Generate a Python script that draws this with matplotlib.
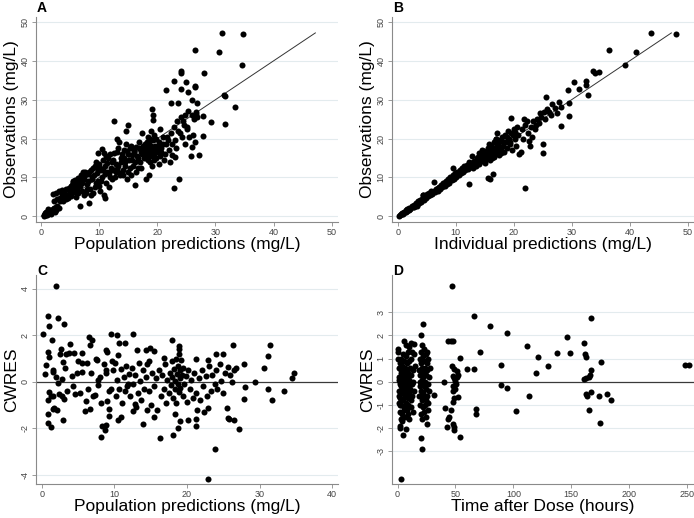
import matplotlib
matplotlib.use("Agg")
import matplotlib.pyplot as plt
import numpy as np

# ---------------- data ----------------
# Panel A: population predictions (x) vs observations (y), mg/L
A_POINTS = [
    (0.5,0.3),(0.6,0.5),(0.7,0.2),(0.8,0.6),(0.9,0.4),(1.0,0.8),(1.1,0.5),(1.2,1.0),(1.3,0.7),(1.4,1.2),
    (1.5,0.9),(1.6,1.4),(1.7,1.1),(1.8,1.6),(1.9,1.3),(2.0,1.8),(2.1,1.5),(2.2,2.0),(0.4,0.1),(0.7,0.9),
    (1.0,0.3),(1.3,1.5),(1.6,0.6),(2.3,1.2),(2.5,2.3),(2.6,1.7),(2.8,2.7),(3.0,2.2),(1.1,1.8),(0.9,1.1),
    (2.0,5.8),(2.5,6.0),(3.0,6.5),(3.5,6.8),(2.2,4.0),(2.8,4.5),(3.2,3.8),(3.6,5.2),(4.0,6.5),(4.2,4.3),
    (4.5,5.5),(4.8,7.2),(5.0,6.0),(5.3,8.0),(5.5,8.8),(5.8,9.3),(5.6,7.0),(6.0,5.0),(6.2,8.2),(6.5,9.5),
    (6.6,2.7),(6.6,8.3),(7.0,6.5),(7.2,11.3),(7.5,10.5),(7.8,7.0),(8.0,9.0),(8.2,11.5),(8.3,3.3),(8.5,5.5),
    (8.8,10.0),(9.0,12.5),(9.2,7.5),(9.5,14.0),(9.6,11.0),(9.7,16.3),(9.8,9.0),(10.0,13.5),(10.2,6.5),(10.3,11.8),
    (10.4,17.2),(10.5,10.0),(10.8,16.2),(10.8,5.4),(11.0,4.6),(11.0,13.0),(11.2,8.5),(11.5,15.0),(11.7,11.0),(12.0,12.5),
    (12.2,9.5),(12.4,14.5),(12.6,24.6),(12.8,11.5),(13.0,16.5),(13.1,19.9),(13.2,13.0),(13.4,19.2),(13.5,10.5),(13.7,15.0),
    (14.0,12.0),(14.2,17.0),(14.4,14.0),(14.6,18.7),(14.6,22.0),(14.8,9.5),(15.0,23.6),(15.0,16.0),(15.2,12.5),(15.5,18.0),
    (15.7,14.5),(16.0,17.0),(16.2,8.0),(16.3,11.5),(16.5,15.5),(16.8,19.0),(17.0,14.0),(17.2,16.5),(17.3,21.5),(17.5,18.0),
    (17.7,15.0),(17.8,17.5),(18.0,9.7),(18.0,16.0),(18.2,19.0),(18.3,14.5),(18.4,17.0),(18.5,18.5),(18.6,10.7),(18.6,15.5),
    (18.7,20.0),(18.8,16.5),(18.9,22.0),(19.0,27.7),(19.0,17.5),(19.1,13.0),(19.2,26.0),(19.2,19.5),(19.3,24.7),(19.4,16.0),
    (19.5,21.0),(19.6,18.0),(19.8,15.0),(20.0,17.0),(20.2,19.0),(20.3,13.5),(20.5,22.5),(20.7,16.5),(21.0,18.5),(21.2,14.5),
    (21.4,18.7),(21.4,32.4),(21.6,20.5),(22.0,17.0),(22.3,21.5),(22.4,29.2),(22.5,15.8),(22.8,23.0),(22.9,7.2),(22.9,34.7),
    (23.0,15.2),(23.0,19.5),(23.3,24.5),(23.5,29.2),(23.6,22.0),(23.8,9.5),(24.0,37.4),(24.0,37.0),(24.0,32.7),(24.0,25.5),
    (24.2,20.5),(24.5,23.5),(24.8,26.0),(25.0,34.5),(25.1,22.4),(25.3,32.1),(25.5,20.5),(25.8,15.4),(25.9,29.8),(26.0,17.8),
    (26.3,25.0),(26.5,19.2),(26.5,33.6),(26.5,33.2),(26.5,42.8),(26.6,26.8),(26.9,29.1),(27.2,15.8),(27.9,20.6),(27.9,25.8),
    (28.0,37.0),(29.3,24.2),(30.6,42.4),(31.2,47.1),(31.4,31.2),(31.6,30.9),(31.7,23.8),(33.3,28.1),(34.5,38.9),(34.8,46.8),
    (3.2,4.8),(3.4,6.2),(3.8,4.0),(4.1,5.8),(4.3,7.0),(4.6,4.8),(4.9,6.4),(5.1,7.8),(5.2,5.2),(5.4,9.0),
    (5.7,6.2),(5.9,8.0),(6.1,7.0),(6.3,9.8),(6.4,6.0),(6.7,7.8),(6.8,10.5),(7.1,8.5),(7.3,5.5),(7.4,9.5),
    (7.6,11.5),(7.7,6.0),(7.9,8.2),(8.1,10.8),(8.4,7.0),(8.6,12.0),(8.7,9.5),(8.9,6.0),(9.1,10.5),(9.3,13.0),
    (9.4,8.5),(9.7,11.8),(9.9,7.8),(10.1,12.5),(10.3,9.0),(10.6,14.5),(10.7,12.0),(10.9,10.8),(11.1,15.5),(11.3,11.5),
    (11.4,13.8),(11.6,7.5),(11.8,16.0),(11.9,10.0),(12.1,14.0),(12.3,12.0),(12.5,16.2),(12.7,10.0),(12.9,13.5),(13.1,12.2),
    (13.3,17.5),(13.6,11.0),(13.8,14.0),(13.9,16.0),(14.1,10.5),(14.3,15.0),(14.5,13.0),(14.7,16.8),(14.9,11.5),(15.1,14.5),
    (15.3,17.5),(15.4,10.5),(15.6,15.8),(15.8,13.0),(15.9,16.5),(16.1,14.0),(16.4,17.8),(16.6,12.5),(16.7,15.0),(16.9,17.5),
    (17.1,12.5),(17.4,16.0),(17.6,17.0),(17.9,18.5),(18.1,15.0),(18.1,17.5),(18.3,20.5),(18.5,16.5),(18.7,14.0),(18.9,18.0),
    (19.0,15.5),(19.3,17.2),(19.5,14.5),(19.7,20.0),(19.9,16.5),(20.1,18.0),(20.4,15.5),(20.6,17.5),(20.9,20.5),(21.3,16.0),
    (21.8,19.5),(22.1,14.0),(22.6,18.5),(23.2,17.5),(23.9,21.5),(24.4,24.5),(24.7,18.5),(25.2,27.0),(26.0,26.0),(26.2,21.0),
    (26.8,25.5),(25.1,22.9),(26.6,26.3),
]

# Panel B: individual predictions (x) vs observations (y), mg/L
B_POINTS = [
    (0.2,0.1),(0.4,0.3),(0.5,0.6),(0.7,0.5),(0.8,0.9),(1.0,0.8),(1.1,1.2),(1.3,1.1),(1.4,1.5),(1.6,1.4),
    (1.7,1.8),(1.9,1.6),(2.0,2.1),(2.2,1.9),(2.4,2.6),(2.6,2.3),(2.8,3.0),(3.0,2.7),(3.2,3.4),(3.4,2.9),
    (3.5,3.8),(3.7,3.3),(3.9,4.2),(4.0,3.6),(4.2,4.5),(4.3,5.5),(4.5,4.1),(4.7,5.0),(4.9,4.6),(5.0,5.6),
    (5.2,5.1),(5.4,6.0),(5.6,5.4),(5.8,6.4),(6.0,5.8),(6.2,8.7),(6.3,6.6),(6.5,6.2),(6.7,7.0),(6.9,6.6),
    (7.1,7.5),(7.3,7.0),(7.5,8.0),(7.7,7.4),(7.9,8.5),(8.1,7.9),(8.3,9.0),(8.5,8.3),(8.7,9.5),(8.9,8.6),
    (9.1,10.0),(9.3,9.2),(9.5,10.5),(9.6,12.3),(9.7,9.6),(9.9,11.0),(10.1,10.2),(10.3,11.5),(10.5,10.6),(10.7,12.0),
    (10.9,11.0),(11.1,12.5),(11.3,11.4),(11.5,12.8),(11.7,11.8),(11.9,13.0),(12.1,12.2),(12.3,8.2),(12.3,14.0),(12.5,12.6),
    (12.7,13.8),(12.9,15.5),(13.0,12.5),(13.2,14.3),(13.4,13.4),(13.6,15.0),(13.8,14.0),(14.0,16.2),(14.1,13.5),(14.3,15.0),
    (14.5,17.0),(14.6,14.2),(14.8,15.8),(15.0,13.8),(15.1,16.5),(15.3,14.8),(15.5,9.9),(15.5,17.5),(15.6,15.5),(15.8,16.5),
    (16.0,9.6),(16.0,14.5),(16.1,18.0),(16.3,16.0),(16.4,10.9),(16.5,17.2),(16.6,19.0),(16.7,15.2),(16.9,17.8),(17.0,20.0),
    (17.1,16.5),(17.2,21.3),(17.3,18.5),(17.5,15.8),(17.6,19.5),(17.8,17.0),(18.0,20.5),(18.1,18.0),(18.3,16.5),(18.5,21.0),
    (18.6,19.0),(18.8,17.5),(19.0,22.0),(19.2,20.0),(19.4,18.5),(19.5,25.2),(19.6,21.5),(19.8,17.0),(20.0,22.5),(20.2,20.0),
    (20.4,18.0),(20.6,23.0),(20.8,21.0),(21.0,16.1),(21.2,16.5),(21.4,22.5),(21.6,20.0),(21.8,25.1),(22.0,7.2),(22.0,23.5),
    (22.3,24.4),(22.5,21.5),(22.7,19.4),(22.8,18.2),(23.0,23.0),(23.2,20.5),(23.4,24.5),(23.6,22.5),(23.8,23.5),(24.0,25.0),
    (24.3,24.0),(24.6,26.5),(24.8,25.5),(25.0,18.5),(25.0,16.2),(25.2,26.8),(25.4,25.0),(25.5,30.8),(25.7,27.5),(26.1,26.8),
    (26.4,26.0),(26.7,29.0),(27.1,27.8),(27.4,26.5),(27.8,29.5),(28.2,28.1),(28.2,23.3),(29.3,32.4),(29.6,29.2),(29.6,25.7),
    (30.4,34.6),(31.3,32.7),(32.4,33.8),(32.5,34.8),(32.8,31.3),(33.7,37.5),(34.1,37.0),(34.8,37.1),(36.5,42.8),(39.2,38.9),
    (41.1,42.4),(43.7,47.1),(48.0,46.8),
    (12.0,13.2),(13.5,12.8),(14.2,14.8),(15.2,15.2),(15.9,17.0),(16.8,16.0),(17.4,17.8),(18.2,19.2),(18.9,20.5),(19.3,19.0),
    (19.9,21.0),(20.3,21.8),(16.2,15.0),(17.9,16.2),(14.9,16.8),(13.9,15.2),(11.0,11.8),(10.0,10.8),(9.0,9.4),(8.0,8.6),
    (7.0,7.3),(6.0,6.3),(5.0,5.3),(4.4,5.4),(2.9,2.4),(3.3,2.6),(1.5,1.1),(0.9,0.6),(15.7,18.5),(16.9,19.8),
]

# Panel C: population predictions (x) vs CWRES (y)
C_POINTS = [
    (1.9,4.14),(0.2,2.08),(0.9,2.85),(1.05,2.39),(2.25,2.75),(3.0,2.49),(1.4,1.78),(0.55,0.73),(0.46,0.32),(0.83,1.28),
    (1.05,1.09),(1.5,0.53),(1.6,0.42),(0.83,-0.79),(1.05,-0.42),(1.24,-0.62),(0.87,-1.4),(0.92,-1.76),(1.24,-1.94),(1.74,-1.12),
    (2.06,-1.22),(1.5,-1.15),(2.25,-0.04),(2.5,1.18),(2.7,1.42),(2.9,0.86),(3.26,0.6),(2.75,0.13),(2.43,-0.54),(2.75,-0.62),
    (2.9,-1.65),(3.1,-0.73),(3.5,-0.4),(3.7,1.25),(3.9,1.65),(4.1,0.24),(4.5,1.22),(4.6,-0.52),(4.9,0.39),(5.5,1.25),
    (5.5,0.82),(5.6,0.42),(5.9,-1.26),(6.05,-0.83),(6.2,0.82),(6.4,-0.29),(6.5,1.95),(6.65,1.58),(6.9,1.78),(6.6,-1.19),
    (7.3,-0.57),(7.6,0.92),(7.8,0.06),(7.8,-0.14),(8.1,-2.38),(8.26,-1.91),(8.7,-2.08),(8.85,-1.84),(8.5,0.75),(8.85,0.37),
    (9.0,-0.83),(9.2,-1.16),(9.3,-1.48),(9.54,2.04),(8.9,1.39),(10.1,0.79),(10.3,2.0),(10.6,1.66),(10.55,1.15),(10.55,-1.66),
    (10.9,-1.52),(11.5,1.69),(12.5,2.04),(13.1,1.35),(11.9,-0.11),(12.6,-1.26),(12.8,-0.97),(14.0,-1.81),(14.45,0.75),(14.35,1.39),
    (14.9,1.46),(15.4,1.32),(15.4,-1.52),(16.3,-2.41),(16.9,1.03),(18.0,1.82),(18.1,-2.31),(18.3,-1.4),(18.95,1.53),(18.9,1.4),
    (18.8,-1.98),(19.0,-1.69),(20.1,-1.66),(21.3,1.0),(21.2,-1.62),(21.2,-1.91),(22.9,0.92),(22.9,-1.12),(24.0,1.18),(23.8,-2.91),
    (22.85,-4.2),(25.0,1.2),(25.5,-1.12),(25.7,-1.55),(25.8,-1.62),(26.4,1.6),(26.5,-1.65),(27.1,-2.05),(27.9,0.77),(27.9,-0.72),
    (28.0,-0.22),(29.4,0.0),(30.6,0.6),(31.1,1.1),(31.4,1.58),(31.1,-0.33),(31.7,-0.79),(33.3,-0.4),(34.4,0.15),(34.7,0.36),
    (9.5,-0.3),(9.8,0.5),(10.2,-0.6),(10.4,0.1),(10.7,-0.3),(10.9,0.55),(11.1,-0.9),(11.3,0.2),(11.5,-0.4),(11.6,0.7),
    (11.8,-0.2),(12.0,0.35),(12.2,-0.6),(12.4,0.6),(12.6,-0.1),(12.8,0.3),(13.0,-1.1),(13.2,-0.5),(13.4,0.8),(13.5,0.05),
    (13.7,-0.8),(13.9,0.5),(14.1,-0.3),(14.3,0.2),(14.5,-1.2),(14.7,-0.4),(14.8,0.9),(15.0,-1.0),(15.2,0.4),(15.5,-0.2),
    (15.7,0.15),(15.9,-1.2),(16.1,0.5),(16.4,-0.6),(16.6,0.3),(16.8,-0.3),(17.0,0.75),(17.1,-0.9),(17.3,0.1),(17.5,-0.5),
    (17.6,0.4),(17.8,-0.15),(17.9,0.9),(18.0,0.2),(18.1,-0.7),(18.2,0.55),(18.3,-0.3),(18.4,0.05),(18.5,1.0),(18.5,-0.9),
    (18.6,0.35),(18.7,-0.1),(18.8,0.7),(18.9,1.2),(18.9,-0.45),(19.0,0.15),(19.1,0.5),(19.1,-0.25),(19.2,0.95),(19.3,0.3),
    (19.4,-0.6),(19.5,0.6),(19.6,-0.1),(19.8,0.25),(20.0,-0.85),(20.2,0.5),(20.4,-0.3),(20.6,0.1),(20.8,-0.7),(21.0,0.4),
    (21.2,-0.5),(21.4,-1.2),(21.6,0.15),(21.8,-0.8),(22.0,0.5),(22.2,-0.2),(22.4,-1.3),(22.6,0.25),(22.8,-0.6),(23.0,0.7),
    (23.3,-0.4),(23.5,0.3),(23.8,-0.1),(24.0,0.5),(24.2,-0.3),(24.5,0.75),(24.7,0.05),(25.0,-0.5),(25.3,0.4),(25.6,0.65),
    (25.9,0.3),(26.2,0.0),(26.5,0.5),(26.8,0.6),
    (5.0,0.9),(5.2,-0.5),(6.8,0.4),(7.0,-0.6),(7.4,1.0),(8.0,0.2),(8.2,-0.9),(8.8,0.5),(9.0,1.3),(9.2,-0.4),
    (9.6,0.9),(4.3,-0.2),(3.3,1.2),(2.0,0.2),(1.6,-0.6),
]

# Panel D: time after dose (x, hours) vs CWRES (y)
D_POINTS = [
    (0.5,1.4),(0.8,1.3),(1.0,0.6),(1.2,-0.4),(1.5,0.2),(1.7,-1.3),(2.0,0.8),(2.2,-0.7),(2.4,0.0),(2.6,-1.6),
    (2.8,0.5),(3.0,-0.2),(3.2,1.0),(3.4,-1.0),(3.6,0.3),(3.8,-0.5),(4.0,0.7),(4.2,-1.4),(4.4,0.1),(4.6,-0.8),
    (4.8,1.2),(5.0,-0.3),(5.2,0.4),(5.5,-1.1),(5.7,0.9),(6.0,-0.6),(6.2,0.2),(6.4,-1.5),(6.6,0.6),(6.8,-0.1),
    (7.0,1.1),(7.2,-0.9),(7.4,0.3),(7.6,-0.4),(7.8,0.8),(8.0,-1.2),(8.2,0.0),(8.4,0.5),(8.6,-0.7),(8.8,1.3),
    (9.0,-0.2),(9.2,0.4),(9.4,-1.0),(9.6,0.9),(9.8,-0.5),(10.0,0.1),(10.3,-1.6),(10.6,0.6),(10.9,-0.3),(11.2,1.0),
    (11.5,-0.8),(11.8,0.3),(12.1,-0.1),(12.4,1.3),(12.7,-0.6),(13.0,0.5),(13.3,-1.3),(13.6,0.0),(14.0,1.2),(14.4,-0.4),
    (14.8,0.7),(2.1,-0.1),(3.1,0.4),(4.1,-0.3),(5.1,0.6),(6.1,0.0),(7.1,-0.2),(8.1,0.2),(9.1,-0.6),(1.1,0.1),
    (1.3,-0.9),(2.3,-1.9),(2.5,-2.0),(4.6,-2.29),(6.9,-2.05),(5.5,1.75),(7.5,1.6),(11.8,1.66),(14.1,1.62),(2.6,-4.19),
    (0.6,1.0),(0.9,-0.6),(1.9,-1.0),(3.5,-1.7),(5.9,-1.2),(8.9,-1.4),(12.0,-1.1),(10.0,1.5),
    (18.5,0.5),(18.8,-0.6),(19.0,1.0),(19.3,-0.2),(19.5,0.3),(19.8,-1.0),(19.9,2.02),(20.0,0.8),(20.2,-0.4),(20.4,1.3),
    (20.6,-1.4),(20.8,0.1),(21.0,-0.8),(21.2,0.6),(21.3,-2.91),(21.4,-1.6),(21.6,2.5),(21.6,0.2),(21.8,-0.5),(22.0,1.1),
    (22.2,-1.1),(22.4,0.4),(22.6,-0.2),(22.8,0.9),(23.0,-1.3),(23.2,1.4),(23.4,-0.7),(23.6,0.0),(23.8,0.6),(24.0,-1.0),
    (24.2,1.2),(24.4,-0.3),(24.6,0.3),(24.8,-1.5),(25.1,-1.8),(25.0,0.8),(25.3,-0.6),(25.6,0.5),(25.9,-0.1),(26.2,1.0),
    (26.5,-0.9),(26.8,0.2),(27.2,-0.4),(27.6,0.6),(19.9,-2.4),(20.5,-0.1),(22.1,-0.7),(23.3,0.5),(24.5,-0.8),(25.5,1.3),
    (26.0,-1.2),(21.0,1.6),(19.2,0.0),(31.4,-0.56),(40.3,0.0),
    (46.6,4.13),(43.6,1.76),(46.5,1.76),(47.6,1.76),(53.9,1.03),(59.8,0.57),(65.6,0.57),(47.0,0.67),(49.0,0.57),(51.0,0.48),
    (52.0,0.3),(47.5,0.25),(48.5,0.15),(50.0,0.05),(48.0,-0.2),(49.5,-0.3),(48.2,-0.4),(49.0,-0.7),(52.0,-0.65),(48.0,-0.85),
    (40.9,-1.13),(45.8,-1.22),(43.5,-1.58),(42.7,-1.93),(48.1,-1.83),(48.4,-2.09),(53.8,-2.38),(48.8,-1.95),(44.5,-1.5),(50.5,-0.1),
    (51.5,0.2),
    (66.3,2.85),(79.8,2.39),(94.5,2.09),(70.8,1.27),(67.5,-1.19),(67.5,-1.4),(89.3,0.71),(89.6,-0.12),(94.7,-0.27),(101.9,-1.27),
    (112.0,1.56),(121.3,1.09),(119.8,0.38),(129.6,0.69),(113.7,-0.59),(137.4,1.24),(146.6,1.92),(148.6,1.24),(161.3,1.67),(161.6,1.2),
    (162.7,1.05),(167.3,2.73),(175.7,0.84),(167.0,0.49),(166.0,0.3),(165.0,0.2),(163.0,0.16),(161.0,0.13),(163.0,-0.51),(163.2,-0.63),
    (167.3,-0.42),(173.9,-0.6),(180.8,-0.53),(184.6,-0.77),(164.9,-1.2),(174.8,-1.78),(248.3,0.74),(251.4,0.72),
]

A_TICKS = [0, 10, 20, 30, 40, 50]
C_XTICKS = [0, 10, 20, 30, 40]
C_YTICKS = [-4, -2, 0, 2, 4]
D_XTICKS = [0, 50, 100, 150, 200, 250]
D_YTICKS = [-3, -2, -1, 0, 1, 2, 3]
IDENTITY = [0, 47.2]

# ---------------- drawing ----------------
plt.rcParams['font.family'] = ['Liberation Sans', 'DejaVu Sans']
plt.rcParams['axes.unicode_minus'] = False

W, H = 694, 518
fig = plt.figure(figsize=(W / 100, H / 100), dpi=100)


def px_axes(left, top, right, bottom):
    return fig.add_axes([left / W, 1 - bottom / H, (right - left) / W, (bottom - top) / H])


GRID = '#e3ebee'
SPINE = '#8a8a8a'


def style(ax, xlim, ylim, xticks, yticks, xlabel, ylabel, zero_line=False):
    ax.set_xlim(*xlim)
    ax.set_ylim(*ylim)
    ax.set_xticks(xticks)
    ax.set_yticks(yticks)
    for s in ['top', 'right']:
        ax.spines[s].set_visible(False)
    for s in ['left', 'bottom']:
        ax.spines[s].set_color(SPINE)
        ax.spines[s].set_linewidth(0.8)
    ax.tick_params(axis='both', colors=SPINE, labelcolor='#444444', labelsize=6.5,
                   length=3, width=0.6, pad=1.5)
    ax.tick_params(axis='y', labelrotation=90)
    for lab in ax.get_yticklabels():
        lab.set_va('center')
    for y in yticks:
        if zero_line and y == 0:
            ax.axhline(0, color='#3a3a3a', lw=0.9, zorder=1)
        else:
            ax.axhline(y, color=GRID, lw=0.8, zorder=0)
    ax.set_xlabel(xlabel, fontsize=12.5, labelpad=0)
    ax.set_ylabel(ylabel, fontsize=12.5, labelpad=1)
    ax.set_facecolor('white')


def scatter(ax, pts):
    x = [p[0] for p in pts]
    y = [p[1] for p in pts]
    ax.scatter(x, y, s=19, color='black', linewidths=0, zorder=3)


axA = px_axes(36, 17, 338, 222)
axB = px_axes(392, 17, 694, 222)
axC = px_axes(36, 275, 338, 484)
axD = px_axes(392, 275, 694, 484)

scatter(axA, A_POINTS)
axA.plot(IDENTITY, IDENTITY, color='#333333', lw=0.7, zorder=2)
style(axA, (-0.9, 51.1), (-1.5, 51.3), A_TICKS, A_TICKS,
      'Population predictions (mg/L)', 'Observations (mg/L)')

scatter(axB, B_POINTS)
axB.plot(IDENTITY, IDENTITY, color='#333333', lw=0.7, zorder=2)
style(axB, (-0.97, 51.1), (-1.5, 51.3), A_TICKS, A_TICKS,
      'Individual predictions (mg/L)', 'Observations (mg/L)')

scatter(axC, C_POINTS)
style(axC, (-0.8, 40.8), (-4.4, 4.6), C_XTICKS, C_YTICKS,
      'Population predictions (mg/L)', 'CWRES', zero_line=True)

scatter(axD, D_POINTS)
style(axD, (-4.8, 256), (-4.4, 4.6), D_XTICKS, D_YTICKS,
      'Time after Dose (hours)', 'CWRES', zero_line=True)

for letter, (x, y) in zip('ABCD', [(37, 1), (393, 1), (37, 264), (393, 264)]):
    fig.text(x / W, 1 - y / H, letter, fontsize=10, fontweight='bold', va='top', ha='left')

fig.savefig('out.png', dpi=100, facecolor='white')
